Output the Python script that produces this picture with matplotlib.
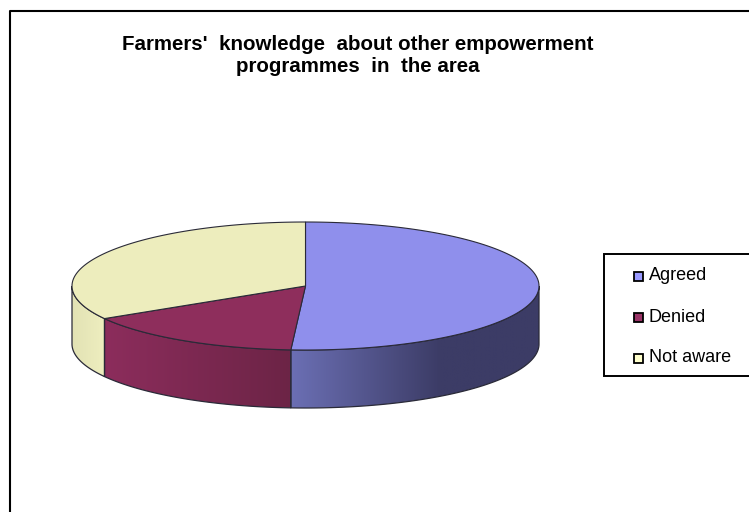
import numpy as np
import matplotlib.pyplot as plt
from matplotlib.patches import Polygon, Rectangle, PathPatch
from matplotlib.path import Path
from matplotlib.colors import LinearSegmentedColormap

labels = ['Agreed', 'Denied', 'Not aware']
values = [51.0, 15.5, 33.5]
top_colors = ['#8f8fec', '#8e2e5c', '#ededbd']
side_left = ['#6b6fb4', '#8c2d5c', '#e2e2b4']
side_right = ['#3c3c66', '#6c2446', '#eeeebf']
legend_colors = ['#9999ff', '#993366', '#ffffcc']
title_lines = "Farmers'  knowledge  about other empowerment\nprogrammes  in  the area"

W, H = 749, 512
cx, cy = 305.5, 286.0
rx, ry = 233.5, 64.0
depth = 58.0


def rim(a0, a1, n=200):
    # angles run clockwise from the top of the pie
    t = np.linspace(a0, a1, n)
    return cx + rx * np.sin(t), cy - ry * np.cos(t)


fig = plt.figure(figsize=(W / 100, H / 100), dpi=100)
ax = fig.add_axes([0, 0, 1, 1])
ax.set_xlim(0, W)
ax.set_ylim(H, 0)
ax.axis('off')

# chart frame, only the top and left sides are in view
ax.plot([10, 10, W + 5], [H + 5, 11, 11], color='black', lw=1.5, zorder=1)

edges = np.cumsum([0] + values) / sum(values) * 2 * np.pi

# side wall, only where the rim faces the viewer
for i in range(3):
    a0 = max(edges[i], np.pi / 2)
    a1 = min(edges[i + 1], 3 * np.pi / 2)
    if a1 <= a0:
        continue
    x, y = rim(a0, a1)
    verts = np.r_[np.c_[x, y], np.c_[x[::-1], y[::-1] + depth]]
    patch = PathPatch(Path(np.r_[verts, verts[:1]]), fc='none', ec='none')
    ax.add_patch(patch)
    x0, x1 = x.min(), x.max()
    y0, y1 = y.min(), y.max() + depth
    if i == 0:
        stops = [side_right[i], side_right[i], side_left[i]]
        pos = [0, 0.4, 1]
    else:
        stops = [side_right[i], side_left[i]]
        pos = [0, 1]
    grad = np.linspace(1, 0, 256)[None, :]
    cmap = LinearSegmentedColormap.from_list('side%d' % i, list(zip(pos, stops)))
    im = ax.imshow(grad, extent=[x0, x1, y1, y0], cmap=cmap, vmin=0, vmax=1,
                   aspect='auto', zorder=2)
    im.set_clip_path(patch)
    outline = Polygon(verts, closed=True, fc='none', ec='#2a2a38', lw=0.9, zorder=3)
    ax.add_patch(outline)

# top face
for i in range(3):
    x, y = rim(edges[i], edges[i + 1])
    verts = np.r_[[[cx, cy]], np.c_[x, y]]
    ax.add_patch(Polygon(verts, closed=True, fc=top_colors[i], ec='#2a2a38',
                         lw=0.8, zorder=4))

ax.set_xlim(0, W)
ax.set_ylim(H, 0)

ax.text(357.5, 56, title_lines, ha='center', va='center', fontsize=14.8, weight='bold',
        family='Liberation Sans', linespacing=1.2, color='black', zorder=6)

# legend
ax.add_patch(Rectangle((604, 254), 150, 122, fc='white', ec='black', lw=1.4, zorder=5))
for name, col, ypos in zip(labels, legend_colors, [276, 317, 358]):
    ax.add_patch(Rectangle((634, ypos - 4.5), 9, 9, fc=col, ec='black', lw=1.3, zorder=6))
    ax.text(649, ypos, name, ha='left', va='center', fontsize=13,
            family='Liberation Sans', color='black', zorder=6)

fig.savefig('out.png', dpi=100)
